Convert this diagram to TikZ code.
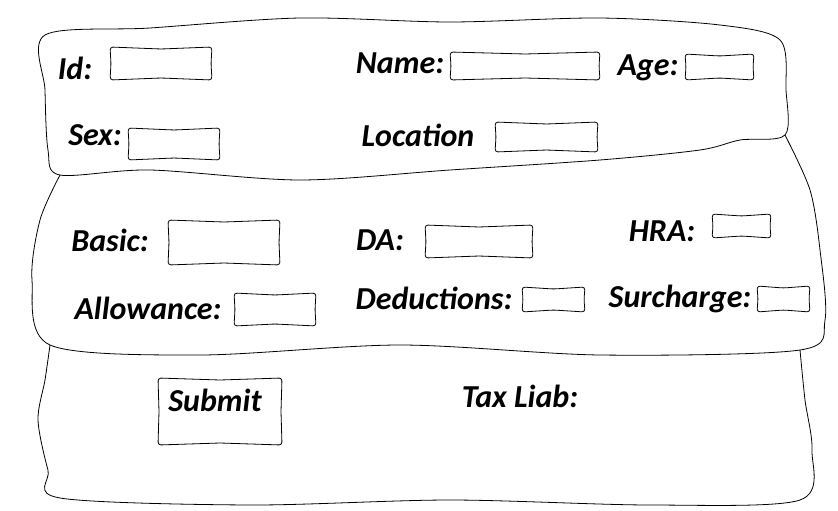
\documentclass[tikz,border=0pt]{standalone}
\usepackage{fontspec}
\setmainfont{Carlito}
\begin{document}
\begin{tikzpicture}[x=1pt,y=-1pt,line width=0.8pt,
  lbl/.style={font=\bfseries\itshape\fontsize{32}{36}\selectfont,inner sep=0pt}]
\useasboundingbox (0,0) rectangle (838,511);
\newcommand\wbox[4]{
\draw[rounded corners=3pt] (#1,#2) -- ({(#1+#3)/2},{#2+2}) -- (#3,#2) -- ({#3-1},{(#2+#4)/2}) -- (#3,#4)
  -- ({(#1+#3)/2},{#4-2}) -- (#1,#4) -- ({#1+1},{(#2+#4)/2}) -- cycle;
}
% panels
\draw plot[smooth cycle,tension=0.5] coordinates {(45,35) (150,28) (300,18) (450,22) (600,18) (720,25) (780,40) (786,90) (785,135) (740,140) (700,150) (600,160) (450,170) (300,180) (150,170) (60,175) (48,150) (45,90)};
\draw plot[smooth] coordinates {(60,175) (40,220) (32,280) (50,345) (200,355) (400,345) (600,355) (800,350) (825,320) (820,250) (810,190) (785,135)};
\draw plot[smooth] coordinates {(50,345) (45,380) (38,420) (48,470) (60,498) (250,505) (450,500) (650,505) (800,500) (812,450) (805,400) (800,350)};
% labels
\node[lbl] (id) at (75,68) {Id:};
\node[lbl] (name) at (400,63) {Name:};
\node[lbl] (age) at (648,68) {Age:};
\node[lbl] (sex) at (95,135) {Sex:};
\node[lbl] (loc) at (418,135) {Location};
\node[lbl] (basic) at (110,240) {Basic:};
\node[lbl] (da) at (380,240) {DA:};
\node[lbl] (hra) at (662,231) {HRA:};
\node[lbl] (allow) at (148,308) {Allowance:};
\node[lbl] (ded) at (434,298) {Deductions:};
\node[lbl] (sur) at (680,299) {Surcharge:};
\node[lbl] (submit) at (215,400) {Submit};
\node[lbl] (tax) at (520,396) {Tax Liab:};
% fields
\wbox{110}{47}{212}{80}
\wbox{450}{52}{600}{80}
\wbox{685}{54}{754}{80}
\wbox{128}{128}{220}{160}
\wbox{495}{122}{598}{152}
\wbox{168}{220}{280}{265}
\wbox{425}{225}{533}{258}
\wbox{712}{214}{771}{238}
\wbox{234}{293}{316}{326}
\wbox{522}{287}{585}{312}
\wbox{757}{286}{810}{312}
\wbox{158}{378}{282}{445}
\end{tikzpicture}
\end{document}
